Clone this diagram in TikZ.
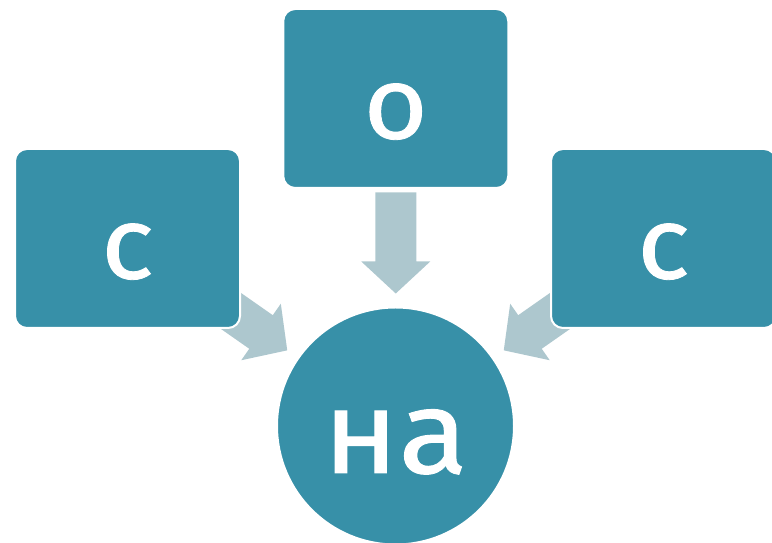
\documentclass[tikz,border=0pt]{standalone}
\usepackage{fontspec}
\setmainfont{Fira Sans}[FakeBold=0.8,FakeStretch=1.08]
\definecolor{teal}{RGB}{55,144,168}
\definecolor{arrowc}{RGB}{173,199,206}
\tikzset{
  box/.style={draw=white, line width=2pt, fill=teal, rounded corners=12pt,
    minimum width=225pt, minimum height=179pt, text=white, inner sep=0pt,
    text height=80pt, text depth=0pt, font=\fontsize{102}{102}\selectfont},
  hub/.style={draw=white, line width=2pt, fill=teal, circle, minimum size=237pt,
    text=white, inner sep=0pt, text height=94pt, text depth=0pt,
    font=\fontsize{118}{118}\selectfont},
  blockarrow/.style={fill=arrowc}
}
\newcommand{\blockarr}{(94,20.5) -- (163,20.5) -- (163,34.5) -- (195,0) -- (163,-34.5) -- (163,-20.5) -- (94,-20.5) -- cycle}
\begin{document}
\begin{tikzpicture}[x=1pt,y=1pt]
\useasboundingbox (0,0) rectangle (772,543);
\clip (0,0) rectangle (772,543);
\coordinate (lc) at (127.5,304.5);
\coordinate (tc) at (395.75,444.5);
\coordinate (rc) at (663.5,304.5);
\coordinate (hc) at (395.5,117);
% arrows (behind boxes)
\begin{scope}[shift={(lc)}, rotate=-35]
  \fill[blockarrow] \blockarr;
\end{scope}
\begin{scope}[shift={(tc)}, rotate=-90]
  \fill[blockarrow] \blockarr;
\end{scope}
\begin{scope}[shift={(rc)}, rotate=-145]
  \fill[blockarrow] \blockarr;
\end{scope}
% boxes
\node[box] (L) at (lc) {с};
\node[box] (T) at (tc) {о};
\node[box] (R) at (rc) {с};
\node[hub] (H) at (hc) {на};
\end{tikzpicture}
\end{document}
